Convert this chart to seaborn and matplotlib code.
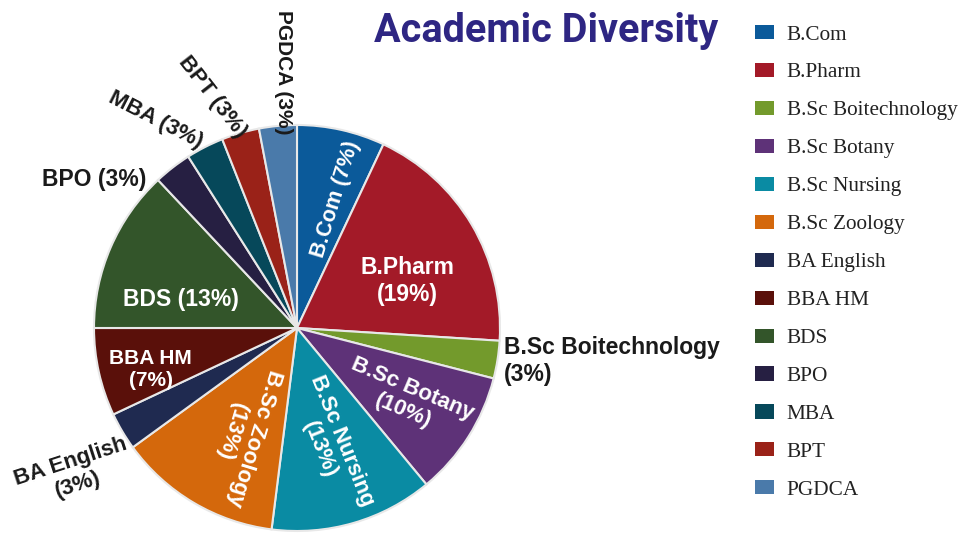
import numpy as np
import matplotlib
matplotlib.use('Agg')
import matplotlib.pyplot as plt
import seaborn as sns
from matplotlib.patches import Patch

## Data
programs = ['B.Com', 'B.Pharm', 'B.Sc Boitechnology', 'B.Sc Botany', 'B.Sc Nursing',
            'B.Sc Zoology', 'BA English', 'BBA HM', 'BDS', 'BPO', 'MBA', 'BPT', 'PGDCA']
share = [7, 19, 3, 10, 13, 13, 3, 7, 13, 3, 3, 3, 3]
colors = ['#0b5a9a', '#a31a28', '#739a2c', '#5e3278', '#0a8ba3', '#d4680c', '#1f2a50',
          '#5a100a', '#33552a', '#261f42', '#06485a', '#9a2218', '#4a7aaa']

## Label styling (radius in pie units, angle shift from slice middle, rotation)
two_line = [False, True, True, True, True, True, True, True, False, False, False, False, False]
lab_r = [0.66, 0.59, 1.03, 0.65, 0.60, 0.59, 1.31, 0.75, 0.59, 1.24, 1.24, 1.21, 1.26]
lab_shift = [-4, -7.5, 0, -0.6, 0, 3.5, 2.6, 3.4, 9.8, 16, 7.3, 4, -2.4]
lab_rot = [73, 0, 0, -23, -68, -107, 18, 0, 0, 0, -27, -52, -90]
lab_size = [15.5, 16.5, 16.5, 16, 16, 16, 16, 15, 16.5, 16.5, 16, 16, 15]
inside = [True, True, False, True, True, True, False, True, True, False, False, False, False]

sns.set_theme(style='white')
plt.rcParams['font.family'] = ['Liberation Sans', 'DejaVu Sans']

fig = plt.figure(figsize=(9.75, 5.46), dpi=100)
fig.patch.set_facecolor('white')

ax = fig.add_axes([94 / 975, 15 / 546, 406 / 975, 406 / 546])
wedges, _ = ax.pie(share, colors=colors, startangle=90, counterclock=False, radius=1,
                   wedgeprops=dict(edgecolor='#e8e8e8', linewidth=1.5))
ax.set_xlim(-1, 1)
ax.set_ylim(-1, 1)
ax.set_aspect('equal')
ax.axis('off')

for i, w in enumerate(wedges):
    mid = np.deg2rad((w.theta1 + w.theta2) / 2 + lab_shift[i])
    x = lab_r[i] * np.cos(mid)
    y = lab_r[i] * np.sin(mid)
    sep = '\n' if two_line[i] else ' '
    txt = f'{programs[i]}{sep}({share[i]}%)'
    ha = 'left' if programs[i] == 'B.Sc Boitechnology' else 'center'
    ax.text(x, y, txt, ha=ha, va='center', multialignment=ha,
            rotation=lab_rot[i], rotation_mode='anchor',
            fontsize=lab_size[i], fontweight='bold',
            color='white' if inside[i] else '#1a1a1a', clip_on=False)

## Title
fig.text(546 / 975, 1 - 31 / 546, 'Academic Diversity', ha='center', va='center',
         fontsize=28.5, fontweight='bold', color='#2e2683',
         family=['Roboto', 'Liberation Sans', 'DejaVu Sans'])

## Legend
handles = [Patch(facecolor=c, edgecolor='none') for c in colors]
fig.legend(handles, programs, loc='upper left', bbox_to_anchor=(755 / 975, 1 - 25 / 546),
           frameon=False, prop={'family': ['Liberation Serif', 'DejaVu Serif'], 'size': 15.3},
           handlelength=0.9, handleheight=0.65, handletextpad=0.6, labelspacing=0.865,
           borderpad=0, borderaxespad=0, labelcolor='#222222')

fig.savefig('out.png', dpi=100)
